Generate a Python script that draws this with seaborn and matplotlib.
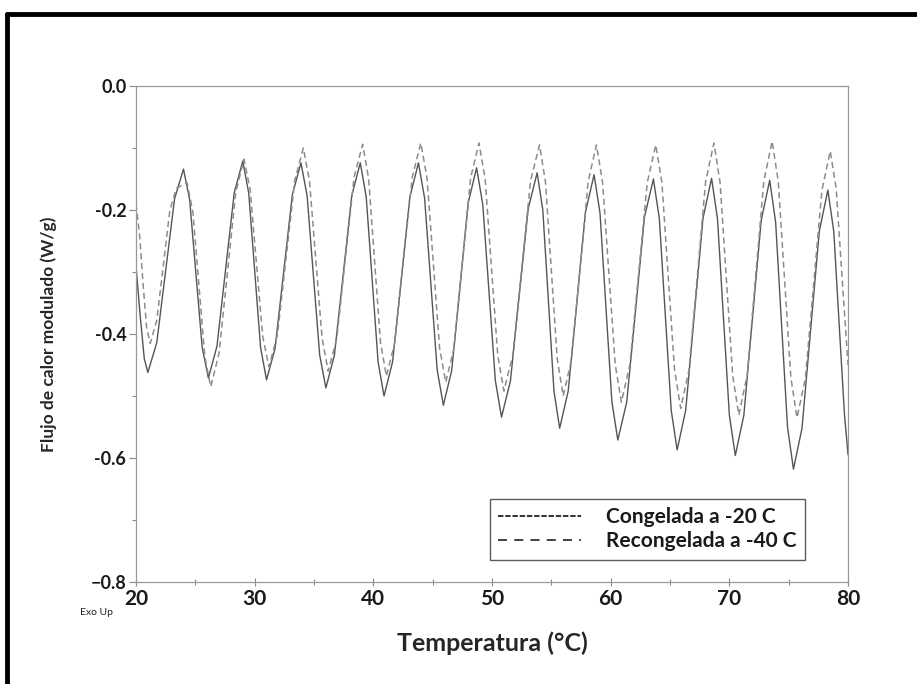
import matplotlib
matplotlib.use("Agg")
import matplotlib.pyplot as plt
import seaborn as sns
from matplotlib.lines import Line2D
from matplotlib.ticker import MultipleLocator

# Congelada a -20 C (solid)
temp_c20 = [20.0, 20.35, 20.7, 21.0,
            21.75, 22.5, 23.25, 24.0, 24.52, 25.05, 25.58, 26.1,
            26.82, 27.55, 28.28, 29.0, 29.5, 30.0, 30.5, 31.0,
            31.72, 32.45, 33.18, 33.9, 34.42, 34.95, 35.48, 36.0,
            36.72, 37.45, 38.18, 38.9, 39.4, 39.9, 40.4, 40.9,
            41.62, 42.35, 43.08, 43.8, 44.32, 44.85, 45.38, 45.9,
            46.6, 47.3, 48.0, 48.7, 49.22, 49.75, 50.28, 50.8,
            51.55, 52.3, 53.05, 53.8, 54.28, 54.75, 55.22, 55.7,
            56.42, 57.15, 57.88, 58.6, 59.1, 59.6, 60.1, 60.6,
            61.35, 62.1, 62.85, 63.6, 64.1, 64.6, 65.1, 65.6,
            66.32, 67.05, 67.78, 68.5, 69.0, 69.5, 70.0, 70.5,
            71.22, 71.95, 72.68, 73.4, 73.9, 74.4, 74.9, 75.4,
            76.12, 76.85, 77.58, 78.3, 78.8, 79.3, 79.7, 80.0]
flow_c20 = [-0.290, -0.370, -0.440, -0.462,
            -0.414, -0.298, -0.182, -0.134, -0.183, -0.303, -0.422, -0.471,
            -0.420, -0.296, -0.172, -0.121, -0.173, -0.298, -0.422, -0.474,
            -0.423, -0.299, -0.175, -0.124, -0.177, -0.306, -0.434, -0.487,
            -0.434, -0.306, -0.177, -0.124, -0.179, -0.312, -0.445, -0.500,
            -0.445, -0.312, -0.179, -0.124, -0.181, -0.320, -0.458, -0.515,
            -0.459, -0.324, -0.188, -0.132, -0.191, -0.333, -0.475, -0.534,
            -0.476, -0.337, -0.198, -0.140, -0.200, -0.346, -0.492, -0.552,
            -0.492, -0.348, -0.203, -0.143, -0.205, -0.357, -0.509, -0.571,
            -0.510, -0.361, -0.211, -0.150, -0.214, -0.369, -0.523, -0.587,
            -0.523, -0.368, -0.213, -0.149, -0.214, -0.373, -0.531, -0.596,
            -0.531, -0.374, -0.217, -0.152, -0.220, -0.385, -0.550, -0.618,
            -0.552, -0.393, -0.234, -0.168, -0.235, -0.400, -0.530, -0.595]

# Recongelada a -40 C (dashed)
temp_c40 = [20.0, 20.3, 20.6, 20.9, 21.2,
            21.75, 22.3, 22.85, 23.4, 23.9, 24.3, 24.8, 25.3, 25.8, 26.3,
            27.0, 27.7, 28.4, 29.1, 29.62, 30.15, 30.68, 31.2,
            31.92, 32.65, 33.38, 34.1, 34.62, 35.15, 35.68, 36.2,
            36.92, 37.65, 38.38, 39.1, 39.6, 40.1, 40.6, 41.1,
            41.82, 42.55, 43.28, 44.0, 44.52, 45.05, 45.58, 46.1,
            46.8, 47.5, 48.2, 48.9, 49.42, 49.95, 50.48, 51.0,
            51.75, 52.5, 53.25, 54.0, 54.5, 55.0, 55.5, 56.0,
            56.7, 57.4, 58.1, 58.8, 59.32, 59.85, 60.38, 60.9,
            61.62, 62.35, 63.08, 63.8, 64.32, 64.85, 65.38, 65.9,
            66.6, 67.3, 68.0, 68.7, 69.22, 69.75, 70.28, 70.8,
            71.5, 72.2, 72.9, 73.6, 74.12, 74.65, 75.18, 75.7,
            76.4, 77.1, 77.8, 78.5, 79.0, 79.5, 80.0]
flow_c40 = [-0.190, -0.240, -0.320, -0.390, -0.415,
            -0.378, -0.290, -0.201, -0.165, -0.160, -0.156, -0.204, -0.321, -0.437, -0.485,
            -0.431, -0.302, -0.172, -0.118, -0.167, -0.286, -0.404, -0.453,
            -0.401, -0.277, -0.152, -0.100, -0.153, -0.280, -0.407, -0.460,
            -0.407, -0.277, -0.147, -0.094, -0.149, -0.281, -0.413, -0.468,
            -0.413, -0.280, -0.147, -0.092, -0.148, -0.285, -0.422, -0.478,
            -0.422, -0.285, -0.148, -0.092, -0.150, -0.292, -0.434, -0.492,
            -0.434, -0.294, -0.153, -0.095, -0.154, -0.298, -0.441, -0.500,
            -0.441, -0.298, -0.154, -0.095, -0.156, -0.303, -0.449, -0.510,
            -0.449, -0.303, -0.156, -0.095, -0.157, -0.308, -0.458, -0.520,
            -0.458, -0.306, -0.154, -0.092, -0.156, -0.312, -0.467, -0.531,
            -0.466, -0.310, -0.154, -0.089, -0.154, -0.312, -0.470, -0.535,
            -0.472, -0.320, -0.168, -0.105, -0.165, -0.310, -0.450]

x_ticks = [20, 30, 40, 50, 60, 70, 80]
y_ticks = [-0.8, -0.6, -0.4, -0.2, 0.0]
y_tick_labels = ["\u22120.8", "-0.6", "-0.4", "-0.2", "0.0"]
series_labels = ["Congelada a -20 C", "Recongelada a -40 C"]

sns.set_style("white")
plt.rcParams["font.family"] = ["Lato", "DejaVu Sans"]
plt.rcParams["font.weight"] = "bold"
plt.rcParams["text.color"] = "#1a1a1a"
plt.rcParams["xtick.color"] = "#1a1a1a"
plt.rcParams["ytick.color"] = "#1a1a1a"

fig = plt.figure(figsize=(9.17, 6.84), dpi=100)
ax = fig.add_axes([0.1483, 0.1491, 0.7765, 0.7252])

sns.lineplot(x=temp_c20, y=flow_c20, ax=ax, color="#555555", linewidth=1.0)
sns.lineplot(x=temp_c40, y=flow_c40, ax=ax, color="#8c8c8c", linewidth=1.1,
             linestyle=(0, (4, 2.5)))

ax.set_xlim(20, 80)
ax.set_ylim(-0.8, 0.0)
ax.set_xticks(x_ticks)
ax.set_xticklabels([str(t) for t in x_ticks], fontsize=15, fontweight="bold")
ax.set_yticks(y_ticks)
ax.set_yticklabels(y_tick_labels, fontsize=13, fontweight="bold")
ax.xaxis.set_minor_locator(MultipleLocator(5))
ax.yaxis.set_minor_locator(MultipleLocator(0.1))
ax.tick_params(axis="x", which="major", direction="inout", length=6, width=0.8,
               color="#888888", pad=2)
ax.tick_params(axis="x", which="minor", direction="inout", length=4, width=0.8,
               color="#888888")
ax.tick_params(axis="y", which="major", direction="out", length=5, width=0.8,
               color="#888888", pad=2, left=True)
ax.tick_params(axis="y", which="minor", direction="out", length=3, width=0.8,
               color="#888888", left=True)
ax.tick_params(bottom=True, which="both")
for sp in ax.spines.values():
    sp.set_color("#999999")
    sp.set_linewidth(0.9)

ax.set_xlabel("Temperatura (\u00b0C)", fontsize=18, fontweight="bold", labelpad=16)
ax.set_ylabel("Flujo de calor modulado (W/g)", fontsize=12.5, fontweight="bold",
              labelpad=24)

handles = [Line2D([0], [0], color="#222222", linewidth=1.3, linestyle=(0, (3, 1))),
           Line2D([0], [0], color="#333333", linewidth=1.3, linestyle=(0, (5, 4)))]
leg = ax.legend(handles, series_labels, loc="lower right",
                bbox_to_anchor=(0.94, 0.045), frameon=True,
                prop={"size": 15, "weight": "bold"},
                fancybox=False, handlelength=4.0, handletextpad=1.2,
                borderpad=0.4, labelspacing=0.2, borderaxespad=0)
leg.get_frame().set_edgecolor("#333333")
leg.get_frame().set_linewidth(1.0)

fig.text(0.087, 0.101, "Exo Up", fontsize=7.5, fontweight="normal", color="#222222")

# outer frame of the scanned page
fig.add_artist(Line2D([0.008, 1.0], [0.979, 0.979], color="black", linewidth=3.5,
                      transform=fig.transFigure))
fig.add_artist(Line2D([0.008, 0.008], [0.0, 0.979], color="black", linewidth=3.5,
                      transform=fig.transFigure))

fig.savefig("out.png", dpi=100)
